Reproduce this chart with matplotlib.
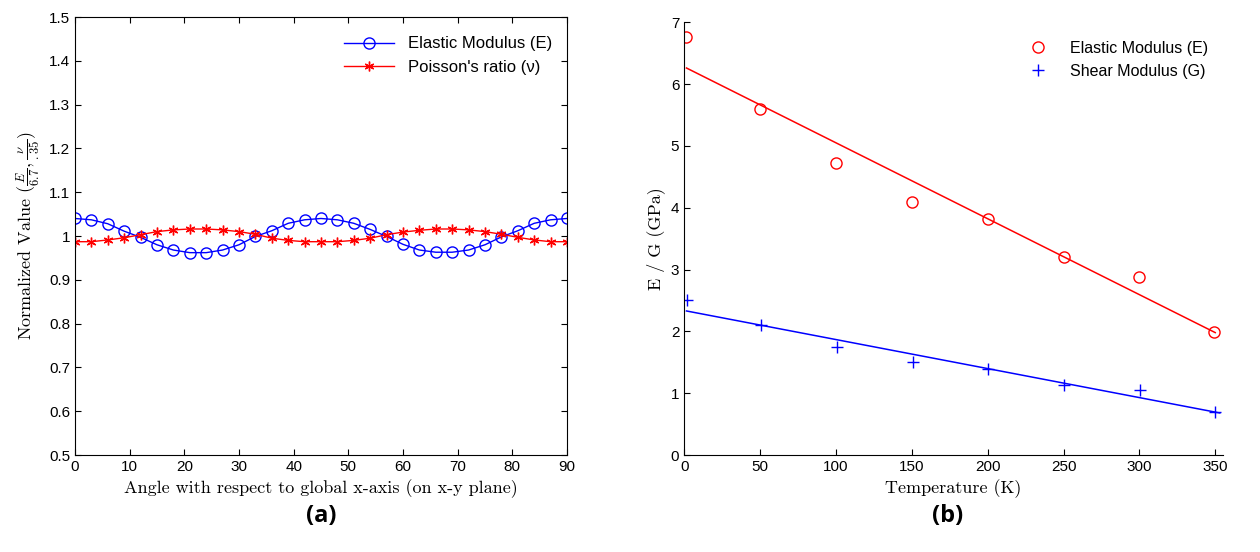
import matplotlib.pyplot as plt
import numpy as np

# (a) normalised values vs angle
angle = np.arange(0, 91, 3)
elastic_norm = [1.040, 1.037, 1.028, 1.011, 0.997, 0.980, 0.968, 0.962, 0.962, 0.968, 0.980,
                0.999, 1.012, 1.029, 1.037, 1.040, 1.037, 1.029, 1.015, 0.999, 0.981, 0.968,
                0.963, 0.963, 0.968, 0.980, 0.998, 1.012, 1.029, 1.037, 1.040]
poisson_norm = [0.987, 0.987, 0.991, 0.996, 1.003, 1.010, 1.014, 1.016, 1.016, 1.014, 1.010,
                1.004, 0.995, 0.990, 0.987, 0.987, 0.987, 0.990, 0.995, 1.003, 1.009, 1.013,
                1.016, 1.016, 1.014, 1.010, 1.004, 0.997, 0.991, 0.987, 0.987]

# (b) moduli vs temperature
temp_E = [1.4, 50, 100, 150, 200, 250, 300, 349.5]
modulus_E = [6.76, 5.59, 4.73, 4.09, 3.82, 3.21, 2.88, 1.99]
temp_G = [2, 50.5, 100.5, 150.5, 200.5, 250.5, 300.5, 350]
modulus_G = [2.50, 2.11, 1.75, 1.50, 1.39, 1.13, 1.05, 0.69]
fit_x_E = [1.5, 350]
fit_y_E = [6.26, 1.98]
fit_x_G = [1.5, 353]
fit_y_G = [2.33, 0.68]

plt.rcParams['mathtext.fontset'] = 'cm'
plt.rcParams['font.family'] = ['Liberation Sans', 'DejaVu Sans']
plt.rcParams['xtick.direction'] = 'in'
plt.rcParams['ytick.direction'] = 'in'

fig = plt.figure(figsize=(12.6, 5.52), dpi=100)
ax_a = fig.add_axes([0.0595, 0.1757, 0.3905, 0.7935])
ax_b = fig.add_axes([0.543, 0.1757, 0.4275, 0.784])

label_font = dict(family='cmr10', size=13)

# Plot (a)
ax_a.plot(angle, elastic_norm, color='blue', lw=1, marker='o', mfc='none', ms=8,
          mew=1, label='Elastic Modulus (E)')
ax_a.plot(angle, poisson_norm, color='red', lw=1, marker=(6, 2, 0), ms=7,
          mew=1, label="Poisson's ratio (\u03bd)")
ax_a.set_xlim(0, 90)
ax_a.set_ylim(0.5, 1.5)
ax_a.set_xticks(np.arange(0, 91, 10))
ax_a.set_yticks(np.arange(0.5, 1.51, 0.1))
ax_a.set_yticklabels(['0.5', '0.6', '0.7', '0.8', '0.9', '1', '1.1', '1.2', '1.3', '1.4', '1.5'])
ax_a.tick_params(labelsize=11, top=True, right=True, length=4)
ax_a.set_xlabel('Angle with respect to global x-axis (on x-y plane)', fontdict=label_font)
ax_a.set_ylabel(r'Normalized Value $(\frac{E}{6.7},\frac{\nu}{.35})$', fontdict=label_font)
ax_a.legend(loc='upper right', frameon=False, fontsize=12, handlelength=3,
            bbox_to_anchor=(1.0, 0.99))

# Plot (b)
ax_b.plot(temp_E, modulus_E, ls='none', marker='o', mfc='none', mec='red', ms=8,
          label='Elastic Modulus (E)')
ax_b.plot(temp_G, modulus_G, ls='none', marker='+', color='blue', ms=9,
          label='Shear Modulus (G)')
ax_b.plot(fit_x_E, fit_y_E, color='red', lw=1.1)
ax_b.plot(fit_x_G, fit_y_G, color='blue', lw=1.1)
ax_b.set_xlim(0, 355)
ax_b.set_ylim(0, 7)
ax_b.set_xticks(np.arange(0, 351, 50))
ax_b.set_yticks(np.arange(0, 8, 1))
ax_b.tick_params(labelsize=11, length=4)
ax_b.spines['top'].set_visible(False)
ax_b.spines['right'].set_visible(False)
ax_b.set_xlabel('Temperature (K)', fontdict=label_font)
ax_b.set_ylabel('E / G (GPa)', fontdict=label_font)
ax_b.legend(loc='upper right', frameon=False, fontsize=11.5, handlelength=2.5,
            bbox_to_anchor=(1.0, 0.99))

fig.text(0.255, 0.065, '(a)', ha='center', va='center', fontsize=17,
         fontweight='bold', family='Open Sans')
fig.text(0.752, 0.065, '(b)', ha='center', va='center', fontsize=17,
         fontweight='bold', family='Open Sans')

fig.savefig('out.png', dpi=100)
